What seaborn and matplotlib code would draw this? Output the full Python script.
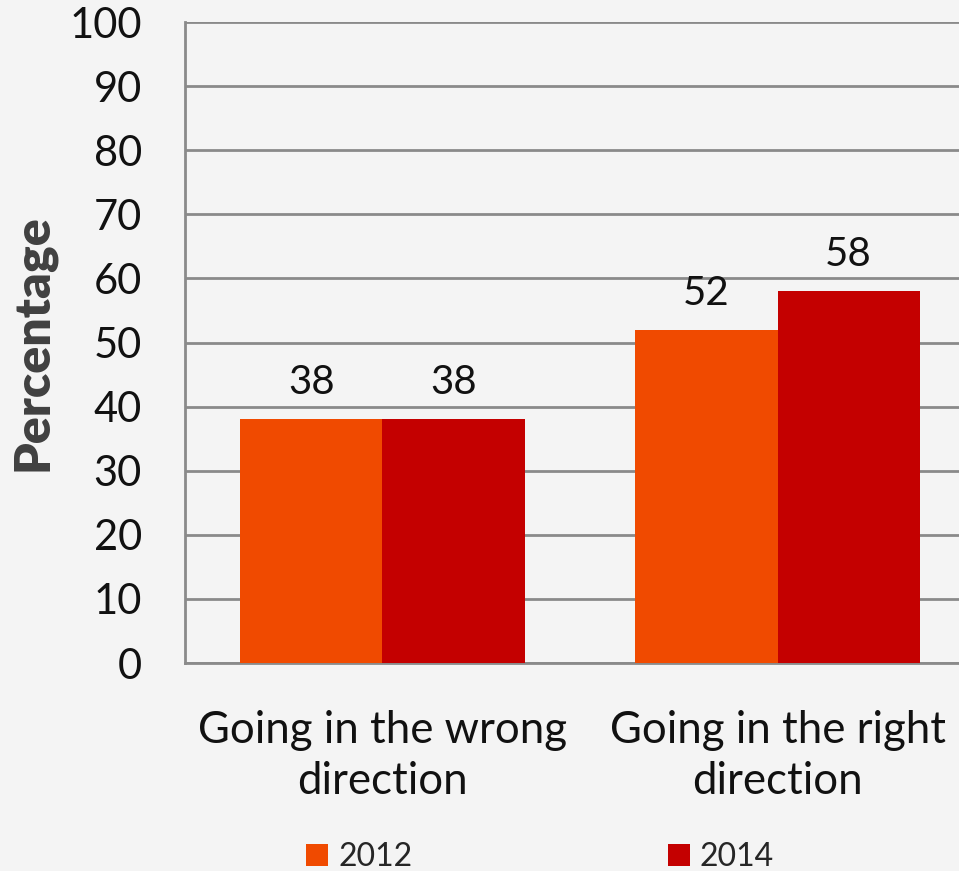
import matplotlib
matplotlib.use("Agg")
import matplotlib.pyplot as plt
from matplotlib.patches import Patch
import seaborn as sns
import pandas as pd

categories = ["Going in the wrong\ndirection", "Going in the right\ndirection"]
years = ["2012", "2014"]
values_2012 = [38, 52]
values_2014 = [38, 58]
y_ticks = [0, 10, 20, 30, 40, 50, 60, 70, 80, 90, 100]
colors = {"2012": "#f04a00", "2014": "#c40000"}

df = pd.DataFrame({
    "category": categories * 2,
    "year": [years[0]] * 2 + [years[1]] * 2,
    "value": values_2012 + values_2014,
})

sns.set_theme(style="white")
plt.rcParams["font.family"] = ["Lato", "DejaVu Sans"]

bg = "#f4f4f4"
fig = plt.figure(figsize=(9.59, 8.71), dpi=100, facecolor=bg)
ax = fig.add_axes([0.1929, 0.2388, 0.8238, 0.7359])
ax.set_facecolor(bg)

sns.barplot(data=df, x="category", y="value", hue="year", palette=colors,
            width=0.72, saturation=1, linewidth=0, ax=ax, legend=False, zorder=3)

ax.set_ylim(0, 100)
ax.set_yticks(y_ticks)
ax.yaxis.grid(True, color="#8a8a8a", linewidth=2, zorder=0)
ax.set_axisbelow(True)
for side in ("top", "right"):
    ax.spines[side].set_visible(False)
for side in ("left", "bottom"):
    ax.spines[side].set_color("#8a8a8a")
    ax.spines[side].set_linewidth(2)
ax.tick_params(axis="both", length=0, colors="#111111")
ax.tick_params(axis="y", pad=31, labelsize=30)
ax.tick_params(axis="x", pad=34, labelsize=31.5)
for lbl in ax.get_xticklabels():
    lbl.set_linespacing(1.3)
ax.set_xlabel("")
ax.set_ylabel("Percentage", fontsize=36, fontweight="heavy", color="#404040", labelpad=10)

for container in ax.containers:
    ax.bar_label(container, fmt="%d", fontsize=29, padding=13, color="#111111")

handles = [Patch(facecolor=colors[y], edgecolor="none") for y in years]
fig.legend(handles, years, loc="lower center", bbox_to_anchor=(0.563, -0.034),
           ncol=2, frameon=False, fontsize=23, handlelength=0.7, handleheight=0.7,
           handletextpad=0.3, columnspacing=8.0)

fig.savefig("out.png", dpi=100, facecolor=bg)
